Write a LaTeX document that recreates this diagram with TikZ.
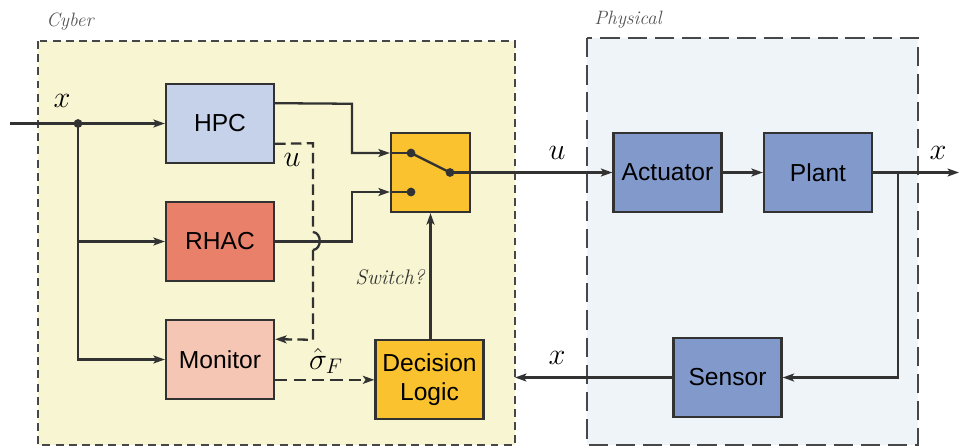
\documentclass[tikz,border=0pt]{standalone}
\usepackage{fontspec}
\setsansfont{Liberation Sans}
\usetikzlibrary{arrows.meta,calc}
\definecolor{cyberbg}{RGB}{247,245,210}
\definecolor{physbg}{RGB}{239,244,249}
\definecolor{hpcc}{RGB}{198,210,234}
\definecolor{rhacc}{RGB}{232,128,106}
\definecolor{monc}{RGB}{246,198,180}
\definecolor{yel}{RGB}{249,194,46}
\definecolor{physc}{RGB}{130,153,204}
\definecolor{ln}{RGB}{50,50,50}
\definecolor{lbl}{RGB}{85,85,85}
\begin{document}
\begin{tikzpicture}[x=0.02cm,y=-0.02cm,
  line width=1.3pt,
  blk/.style={draw=ln,line width=1.3pt,minimum width=2.16cm,minimum height=1.58cm,inner sep=0pt,
     font=\sffamily\fontsize{14}{16.5}\selectfont,align=center},
  sqbox/.style={draw=ln,line width=1.3pt,minimum width=1.58cm,minimum height=1.58cm,inner sep=0pt,fill=yel},
  conn/.style={draw=ln,line width=1.3pt},
  arr/.style={conn,-{Stealth[length=6.5pt,width=4.5pt,inset=1.5pt]}},
  dsh/.style={dash pattern=on 6pt off 3pt},
  dotn/.style={circle,fill=ln,inner sep=0pt,minimum size=5pt},
  mlab/.style={font=\fontsize{18}{20}\selectfont},
  grp/.style={font=\itshape\fontsize{11}{13}\selectfont,text=lbl},
]
\useasboundingbox (0,0) rectangle (959,447);
% group frames
\draw[draw=ln!90,fill=cyberbg,line width=1.2pt,dash pattern=on 4.5pt off 3pt] (38,41) rectangle (515,445);
\draw[draw=ln!90,fill=physbg,line width=1.2pt,dash pattern=on 11pt off 4.5pt] (587,38) rectangle (918,445);
\node[grp] (cyl) at (70,22) {Cyber};
\node[grp] (phl) at (628,20) {Physical};
% blocks
\node[blk,fill=hpcc] (hpc) at (220,123.5) {HPC};
\node[blk,fill=rhacc] (rhac) at (220,241.5) {RHAC};
\node[blk,fill=monc] (mon) at (220,359.5) {Monitor};
\node[blk,fill=yel] (dec) at (429.5,379.5) {Decision\\Logic};
\node[sqbox] (sw) at (430.5,172.5) {};
\node[blk,fill=physc] (act) at (667.5,172.5) {Actuator};
\node[blk,fill=physc] (plant) at (818,172.5) {Plant};
\node[blk,fill=physc] (sen) at (727.5,377.5) {Sensor};
% switch contacts
\node[dotn] (s1) at ($(sw.center)+(-19.5,-19.5)$) {};
\node[dotn] (s2) at ($(sw.center)+(-19.5,19.5)$) {};
\node[dotn] (s3) at ($(sw.center)+(19.5,0)$) {};
\draw[conn] (s1.center) -- (s3.center);
% input
\coordinate (in) at (10,123.5);
\node[dotn] (j) at (78,123.5) {};
\draw[arr] (in) -- (hpc.west);
\draw[arr] (j.center) |- (mon.west);
\draw[arr] (j.center |- rhac.west) -- (rhac.west);
\node[mlab] (xin) at (62,101) {$x$};
% HPC / RHAC to switch
\coordinate (ho) at ($(hpc.north east)!0.25!(hpc.south east)$);
\coordinate (hd) at ($(hpc.north east)!0.75!(hpc.south east)$);
\draw[arr] (ho) -- (352,103.75) |- (sw.west |- s1);
\draw[conn] (sw.west |- s1) -- (s1.center);
\draw[arr] (rhac.east) -- (352,241.5) |- (sw.west |- s2);
\draw[conn] (sw.west |- s2) -- (s2.center);
% dashed HPC -> Monitor with jump
\coordinate (mi) at ($(mon.north east)!0.25!(mon.south east)$);
\draw[conn,dsh] (hd) -- (313,143.25) -- (313,232);
\draw[conn] (313,232) .. controls (322,233) and (322,249) .. (313,250);
\draw[arr,dsh] (313,250) -- (313,339.75) -- (mi);
\node[mlab] (ulab) at (292,160) {$u$};
% Monitor -> Decision
\coordinate (mo) at ($(mon.north east)!0.75!(mon.south east)$);
\draw[arr,dash pattern=on 7pt off 3.5pt] (mo) -- (dec.west |- mo);
\node[mlab] (sig) at (326,361) {$\hat\sigma_F$};
% Decision -> switch
\draw[arr] (dec.north -| sw.south) -- (sw.south);
\node[font=\itshape\fontsize{12}{14}\selectfont,text=ln] (swq) at (390,277) {Switch?};
% switch -> actuator -> plant
\draw[arr] (s3.center) -- (act.west);
\node[mlab] (u2) at (557,153) {$u$};
\draw[arr] (act.east) -- (plant.west);
\coordinate (xout) at (959,172.5);
\draw[arr] (plant.east) -- (xout);
\node[mlab] (x2) at (938,153) {$x$};
\coordinate (br) at (898,172.5);
\draw[arr] (br) |- (sen.east);
\coordinate (cyr) at (515,377.5);
\draw[arr] (sen.west) -- (cyr);
\node[mlab] (x3) at (557,358) {$x$};
\end{tikzpicture}
\end{document}
